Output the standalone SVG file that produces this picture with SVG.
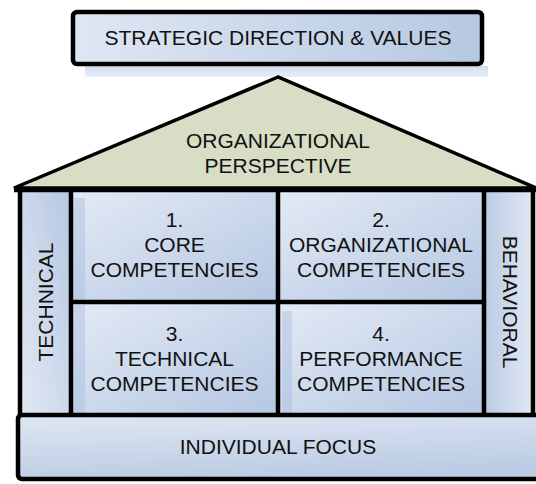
<svg xmlns="http://www.w3.org/2000/svg" width="536" height="484" viewBox="0 0 536 484">
<defs>
<linearGradient id="gBox" x1="0" y1="0" x2="1" y2="1">
<stop offset="0" stop-color="#e3eaf5"/>
<stop offset="1" stop-color="#b5c7e2"/>
</linearGradient>
<linearGradient id="gTop" x1="0" y1="0" x2="1" y2="0">
<stop offset="0" stop-color="#dfe7f3"/>
<stop offset="1" stop-color="#b6c8e2"/>
</linearGradient>
<linearGradient id="gColL" x1="0" y1="1" x2="1" y2="0">
<stop offset="0" stop-color="#e2e9f4"/>
<stop offset="1" stop-color="#b6c7e2"/>
</linearGradient>
<linearGradient id="gColR" x1="0" y1="0" x2="1" y2="0">
<stop offset="0" stop-color="#b9cae3"/>
<stop offset="1" stop-color="#e2e9f4"/>
</linearGradient>
<linearGradient id="gBot" x1="0" y1="0" x2="0.3" y2="1">
<stop offset="0" stop-color="#dfe7f3"/>
<stop offset="1" stop-color="#bccce4"/>
</linearGradient>
<linearGradient id="gShadow" x1="0" y1="0" x2="0" y2="1">
<stop offset="0" stop-color="#d3def0"/>
<stop offset="1" stop-color="#e8eef7"/>
</linearGradient>
</defs>
<style>
.t{font-family:"Liberation Sans",Arial,sans-serif;font-size:21px;fill:#111;text-anchor:middle}
.ln{stroke:#000;stroke-width:4.5;fill:none}
.sh{fill:#a8bde0;opacity:0.45}
</style>
<g id="top">
<rect x="85" y="66" width="403" height="11" fill="url(#gShadow)"/>
<rect x="73" y="12" width="409" height="52" rx="4" fill="url(#gTop)" stroke="#000" stroke-width="4.5"/>
<text class="t" x="278" y="45">STRATEGIC DIRECTION &amp; VALUES</text>
</g>
<g id="roof">
<polygon points="278,77 14,188 536,188" fill="#d8ddc5" stroke="#000" stroke-width="3.5" stroke-linejoin="miter"/>
<text class="t" x="278" y="148">ORGANIZATIONAL</text>
<text class="t" x="278" y="173">PERSPECTIVE</text>
</g>
<g id="technical">
<rect x="20" y="191" width="51" height="224" fill="url(#gColL)"/>
<text class="t" transform="translate(53,302) rotate(-90)">TECHNICAL</text>
</g>
<g id="behavioral">
<rect x="484" y="191" width="49" height="224" fill="url(#gColR)"/>
<text class="t" transform="translate(503,302) rotate(90)">BEHAVIORAL</text>
</g>
<g id="cell1">
<rect x="71" y="191" width="207" height="111" fill="url(#gBox)"/>
<rect class="sh" x="74" y="198" width="11" height="102"/>
<text class="t" x="174.5" y="227">1.</text>
<text class="t" x="174.5" y="252">CORE</text>
<text class="t" x="174.5" y="277">COMPETENCIES</text>
</g>
<g id="cell2">
<rect x="278" y="191" width="206" height="111" fill="url(#gBox)"/>
<text class="t" x="381" y="227">2.</text>
<text class="t" x="381" y="252">ORGANIZATIONAL</text>
<text class="t" x="381" y="277">COMPETENCIES</text>
</g>
<g id="cell3">
<rect x="71" y="302" width="207" height="113" fill="url(#gBox)"/>
<rect class="sh" x="74" y="305" width="11" height="108"/>
<text class="t" x="174.5" y="341">3.</text>
<text class="t" x="174.5" y="366">TECHNICAL</text>
<text class="t" x="174.5" y="391">COMPETENCIES</text>
</g>
<g id="cell4">
<rect x="278" y="302" width="206" height="113" fill="url(#gBox)"/>
<rect class="sh" x="282" y="311" width="10" height="102"/>
<text class="t" x="381" y="341">4.</text>
<text class="t" x="381" y="366">PERFORMANCE</text>
<text class="t" x="381" y="391">COMPETENCIES</text>
</g>
<g id="connectors">
<line class="ln" x1="14" y1="190" x2="536" y2="190"/>
<line class="ln" x1="20" y1="188" x2="20" y2="415"/>
<line class="ln" x1="71" y1="188" x2="71" y2="415"/>
<line class="ln" x1="278" y1="188" x2="278" y2="415"/>
<line class="ln" x1="484" y1="188" x2="484" y2="415"/>
<line class="ln" x1="533" y1="188" x2="533" y2="415"/>
<line class="ln" x1="71" y1="302" x2="484" y2="302"/>
</g>
<g id="individual">
<rect x="18" y="415" width="530" height="64" rx="4" fill="url(#gBot)" stroke="#000" stroke-width="4.5"/>
<text class="t" x="278" y="454">INDIVIDUAL FOCUS</text>
</g>
</svg>
